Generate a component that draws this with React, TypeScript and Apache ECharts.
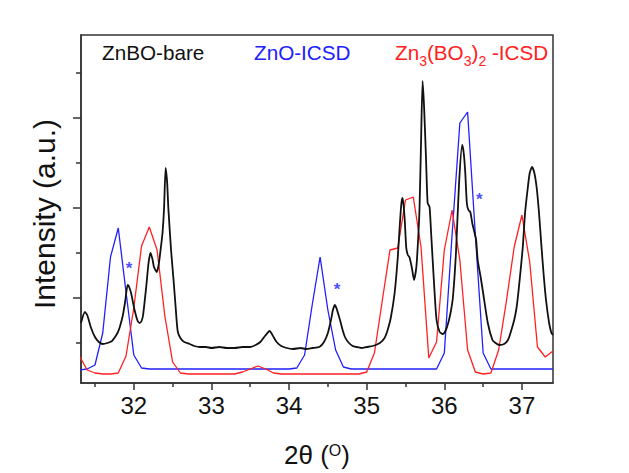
import React, { useEffect, useRef } from "react";
import * as echarts from "echarts";

const FONT = "'Liberation Sans', Arial, sans-serif";

// ZnBO-bare (measured pattern)
const blackX = [31.32, 31.37, 31.4, 31.45, 31.5, 31.55, 31.6, 31.66, 31.72, 31.75, 31.79, 31.82, 31.86, 31.89, 31.92, 31.935, 31.965, 32.01, 32.05, 32.075, 32.1, 32.12, 32.16, 32.19, 32.215, 32.24, 32.26, 32.295, 32.32, 32.345, 32.37, 32.39, 32.41, 32.43, 32.445, 32.48, 32.51, 32.535, 32.565, 32.6, 32.65, 32.72, 32.78, 32.85, 32.93, 33.0, 33.1, 33.2, 33.3, 33.4, 33.5, 33.57, 33.63, 33.69, 33.75, 33.8, 33.84, 33.9, 33.97, 34.05, 34.15, 34.22, 34.3, 34.39, 34.45, 34.5, 34.54, 34.565, 34.59, 34.61, 34.63, 34.66, 34.69, 34.72, 34.76, 34.82, 34.87, 34.93, 35.0, 35.08, 35.17, 35.23, 35.27, 35.31, 35.36, 35.4, 35.425, 35.445, 35.46, 35.475, 35.49, 35.51, 35.53, 35.55, 35.58, 35.61, 35.64, 35.66, 35.68, 35.7, 35.72, 35.74, 35.765, 35.785, 35.81, 35.83, 35.85, 35.875, 35.9, 35.94, 35.98, 36.02, 36.05, 36.08, 36.11, 36.15, 36.19, 36.23, 36.25, 36.27, 36.29, 36.31, 36.335, 36.36, 36.39, 36.41, 36.43, 36.47, 36.5, 36.56, 36.62, 36.66, 36.71, 36.77, 36.82, 36.86, 36.9, 36.93, 36.96, 37.01, 37.04, 37.075, 37.1, 37.13, 37.16, 37.19, 37.22, 37.25, 37.28, 37.31, 37.35, 37.38, 37.4];
const blackY = [60, 71, 68, 55, 46, 41, 39, 40, 42, 45, 50, 56, 68, 82, 98, 97, 90, 73, 62, 60, 62, 68, 96, 120, 130, 124, 116, 111, 118, 133, 150, 175, 215, 200, 175, 133, 105, 80, 52, 45, 41, 39, 37, 36, 36, 35, 36, 35, 35, 36, 36, 38, 41, 47, 52, 46, 41, 37, 35, 34, 35, 34, 35, 36, 41, 50, 63, 73, 78, 75, 70, 62, 53, 46, 41, 37, 36, 35, 36, 37, 40, 45, 53, 65, 90, 125, 156, 178, 185, 178, 163, 135, 128, 126, 116, 103, 116, 140, 173, 240, 302, 275, 223, 180, 176, 150, 123, 90, 63, 51, 49, 53, 60, 70, 85, 130, 200, 238, 230, 210, 180, 173, 171, 160, 150, 143, 123, 105, 90, 60, 43, 40, 38, 39, 43, 52, 63, 75, 95, 135, 170, 195, 210, 216, 210, 195, 170, 138, 108, 83, 60, 50, 48];

// ZnO-ICSD (reference pattern)
const blueX = [31.3, 31.4, 31.5, 31.6, 31.7, 31.8, 31.9, 32.0, 32.1, 32.2, 34.0, 34.1, 34.2, 34.3, 34.4, 34.5, 34.6, 34.7, 34.8, 35.9, 36.0, 36.1, 36.2, 36.3, 36.4, 36.5, 36.6, 37.4];
const blueY = [13, 14, 18, 50, 126, 155, 91, 28, 15, 14, 14, 15, 28, 79, 126, 73, 33, 16, 14, 14, 30, 148, 260, 271, 148, 30, 14, 14];

// Zn3(BO3)2-ICSD (reference pattern)
const redX = [31.3, 31.4, 31.5, 31.6, 31.7, 31.8, 31.9, 32.0, 32.1, 32.2, 32.3, 32.4, 32.5, 32.6, 32.7, 33.3, 33.4, 33.5, 33.6, 33.7, 33.8, 33.9, 34.9, 35.0, 35.1, 35.2, 35.3, 35.4, 35.5, 35.6, 35.7, 35.8, 35.9, 36.0, 36.1, 36.2, 36.3, 36.4, 36.5, 36.6, 36.7, 36.8, 36.9, 37.0, 37.1, 37.2, 37.3, 37.4];
const redY = [27, 13, 10, 9, 9, 10, 27, 75, 137, 156, 133, 67, 21, 10, 9, 9, 11, 14, 17, 14, 10, 9, 9, 11, 30, 82, 133, 135, 183, 186, 136, 25, 41, 133, 173, 123, 33, 11, 9, 10, 33, 82, 136, 168, 121, 36, 26, 32];

// asterisk markers (ZnO reflections in the sample)
const starX = [31.94, 34.62, 36.45];
const starY = [119, 98, 188];

const xMajorTicks = [32, 33, 34, 35, 36, 37];
const xMinorTicks = [31.5, 32.5, 33.5, 34.5, 35.5, 36.5];
const yMajorTicks = [85.6, 175.3, 265];
const yMinorTicks = [40.7, 130.4, 220.1, 309.8];

const X_MIN = 31.32;
const X_MAX = 37.4;
const Y_MIN = 0;
const Y_MAX = 348;

const BLACK = "#111111";
const BLUE = "#2020ff";
const RED = "#ff2020";

function zip(xs: number[], ys: number[]) {
  return xs.map((x, i) => [x, ys[i]]);
}

let measureCtx: CanvasRenderingContext2D | null = null;
function textWidth(text: string, size: number) {
  if (!measureCtx) {
    const c = document.createElement("canvas");
    measureCtx = c.getContext("2d");
  }
  if (!measureCtx) return text.length * size * 0.55;
  measureCtx.font = `${size}px "Liberation Sans"`;
  return measureCtx.measureText(text).width;
}

type Piece = { text: string; size: number; dy: number };

function layoutPieces(pieces: Piece[], startX: number, baseY: number, color: string) {
  let x = startX;
  const out: any[] = [];
  for (const p of pieces) {
    out.push({
      type: "text",
      x,
      y: baseY + p.dy,
      style: {
        text: p.text,
        fill: color,
        font: `${p.size}px ${FONT}`,
        align: "left",
        verticalAlign: "middle",
      },
    });
    x += textWidth(p.text, p.size);
  }
  return { elements: out, width: x - startX };
}

export default function App() {
  const ref = useRef<HTMLDivElement>(null);
  useEffect(() => {
    if (!ref.current) return;
    const chart = echarts.init(ref.current, null, { renderer: "svg" });

    const legendMain = 20.7;
    const legendSub = 14;
    const legendY = 52.5;
    const zbo = layoutPieces(
      [
        { text: "Zn", size: legendMain, dy: 0 },
        { text: "3", size: legendSub, dy: 8 },
        { text: "(BO", size: legendMain, dy: 0 },
        { text: "3", size: legendSub, dy: 8 },
        { text: ")", size: legendMain, dy: 0 },
        { text: "2", size: legendSub, dy: 8 },
        { text: " -ICSD", size: legendMain, dy: 0 },
      ],
      395,
      legendY,
      RED
    );

    const xTitlePieces: Piece[] = [
      { text: "2θ (", size: 26, dy: 0 },
      { text: "O", size: 16, dy: -4.5 },
      { text: ")", size: 26, dy: 0 },
    ];
    const xtW = xTitlePieces.reduce((s, p) => s + textWidth(p.text, p.size), 0);
    const xTitle = layoutPieces(xTitlePieces, 317 - xtW / 2, 455, BLACK);

    const option: any = {
      animation: false,
      backgroundColor: "#ffffff",
      grid: {
        left: 81,
        right: 76,
        top: 35,
        bottom: 90,
        show: true,
        borderColor: "#333333",
        borderWidth: 1.5,
        outerBoundsMode: "none",
      },
      xAxis: [
        {
          type: "value",
          min: X_MIN,
          max: X_MAX,
          position: "bottom",
          axisLine: { show: true, onZero: false, lineStyle: { color: "#333333", width: 1.5 } },
          axisTick: { show: true, inside: false, length: 7, customValues: xMajorTicks, lineStyle: { color: "#333333", width: 1.5 } },
          axisLabel: {
            show: true,
            customValues: xMajorTicks,
            margin: 10,
            fontSize: 24,
            fontFamily: FONT,
            color: "#111111",
          },
          splitLine: { show: false },
        },
        {
          type: "value",
          min: X_MIN,
          max: X_MAX,
          position: "bottom",
          axisLine: { show: false, onZero: false },
          axisTick: { show: true, inside: false, length: 4, customValues: xMinorTicks, lineStyle: { color: "#333333", width: 1.5 } },
          axisLabel: { show: false },
          splitLine: { show: false },
        },
      ],
      yAxis: [
        {
          type: "value",
          min: Y_MIN,
          max: Y_MAX,
          position: "left",
          axisLine: { show: true, onZero: false, lineStyle: { color: "#333333", width: 1.5 } },
          axisTick: { show: true, inside: false, length: 8, customValues: yMajorTicks, lineStyle: { color: "#333333", width: 1.5 } },
          axisLabel: { show: false },
          splitLine: { show: false },
        },
        {
          type: "value",
          min: Y_MIN,
          max: Y_MAX,
          position: "left",
          axisLine: { show: false, onZero: false },
          axisTick: { show: true, inside: false, length: 5, customValues: yMinorTicks, lineStyle: { color: "#333333", width: 1.5 } },
          axisLabel: { show: false },
          splitLine: { show: false },
        },
      ],
      series: [
        {
          name: "ZnO-ICSD",
          type: "line",
          data: zip(blueX, blueY),
          showSymbol: false,
          symbol: "none",
          lineStyle: { color: BLUE, width: 1.3 },
          clip: true,
          z: 2,
        },
        {
          name: "Zn3(BO3)2-ICSD",
          type: "line",
          data: zip(redX, redY),
          showSymbol: false,
          symbol: "none",
          lineStyle: { color: RED, width: 1.3 },
          clip: true,
          z: 2,
        },
        {
          name: "ZnBO-bare",
          type: "line",
          data: zip(blackX, blackY),
          showSymbol: false,
          symbol: "none",
          smooth: 0.2,
          lineStyle: { color: BLACK, width: 1.8 },
          clip: true,
          z: 3,
        },
        {
          name: "stars",
          type: "scatter",
          data: zip(starX, starY),
          symbolSize: 1,
          itemStyle: { color: "rgba(0,0,0,0)" },
          label: {
            show: true,
            formatter: "*",
            position: "inside",
            offset: [0, 4],
            fontSize: 17,
            fontWeight: "bold",
            fontFamily: FONT,
            color: BLUE,
          },
          z: 4,
        },
      ],
      graphic: [
        {
          type: "text",
          x: 102,
          y: legendY,
          style: { text: "ZnBO-bare", fill: BLACK, font: `${legendMain}px ${FONT}`, align: "left", verticalAlign: "middle" },
        },
        {
          type: "text",
          x: 254,
          y: legendY,
          style: { text: "ZnO-ICSD", fill: BLUE, font: `${legendMain}px ${FONT}`, align: "left", verticalAlign: "middle" },
        },
        ...zbo.elements,
        ...xTitle.elements,
        {
          type: "text",
          x: 44,
          y: 214,
          rotation: Math.PI / 2,
          style: { text: "Intensity (a.u.)", fill: BLACK, font: `30px ${FONT}`, align: "center", verticalAlign: "middle" },
        },
      ],
    };

    chart.setOption(option);
    return () => chart.dispose();
  }, []);
  return <div ref={ref} style={{ position: "fixed", left: 0, top: 0, width: 629, height: 473 }} />;
}
